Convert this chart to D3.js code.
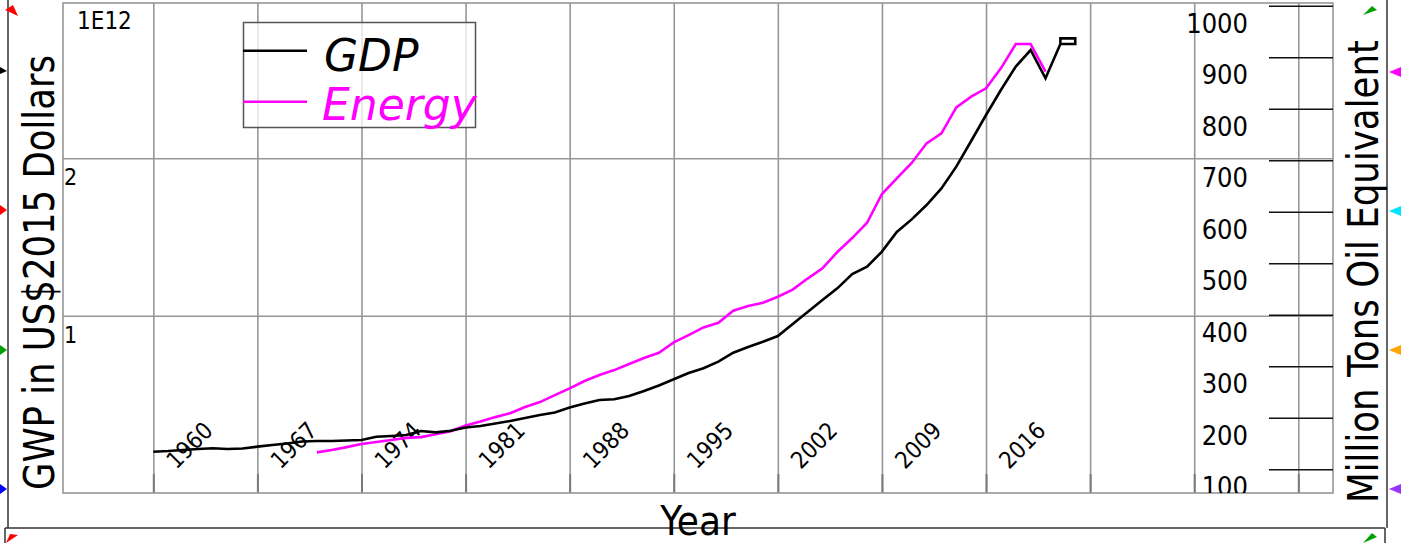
<!DOCTYPE html>
<html>
<head>
<meta charset="utf-8">
<script src="https://cdn.jsdelivr.net/npm/d3@7"></script>
<style>
  body { margin: 0; background: #fff; }
  svg { display: block; }
  text { font-family: "DejaVu Sans Condensed", "DejaVu Sans", sans-serif; font-stretch: condensed; fill: #000; }
</style>
</head>
<body>
<svg id="chart"></svg>
<script>
// GWP (left axis units)
var gdpYears = [1960, 1961, 1962, 1963, 1964, 1965, 1966, 1967, 1968, 1969,
  1970, 1971, 1972, 1973, 1974, 1975, 1976, 1977, 1978, 1979,
  1980, 1981, 1982, 1983, 1984, 1985, 1986, 1987, 1988, 1989,
  1990, 1991, 1992, 1993, 1994, 1995, 1996, 1997, 1998, 1999,
  2000, 2001, 2002, 2003, 2004, 2005, 2006, 2007, 2008, 2009,
  2010, 2011, 2012, 2013, 2014, 2015, 2016, 2017, 2018, 2019,
  2020, 2021, 2021, 2022, 2022, 2021];
var gdpValues = [0.136, 0.140, 0.147, 0.153, 0.158, 0.153, 0.156, 0.168, 0.179, 0.188,
  0.201, 0.204, 0.204, 0.207, 0.210, 0.231, 0.236, 0.242, 0.267, 0.259,
  0.269, 0.290, 0.299, 0.315, 0.331, 0.350, 0.369, 0.385, 0.417, 0.442,
  0.464, 0.469, 0.490, 0.522, 0.557, 0.596, 0.636, 0.666, 0.708, 0.765,
  0.801, 0.835, 0.871, 0.947, 1.024, 1.100, 1.174, 1.265, 1.311, 1.407,
  1.532, 1.612, 1.703, 1.809, 1.947, 2.110, 2.275, 2.434, 2.583, 2.688,
  2.508, 2.726, 2.762, 2.762, 2.726, 2.726];

// Energy, million tons oil equivalent (right axis)
var energyYears = [1971, 1972, 1973, 1974, 1975, 1976, 1977, 1978, 1979,
  1980, 1981, 1982, 1983, 1984, 1985, 1986, 1987, 1988, 1989,
  1990, 1991, 1992, 1993, 1994, 1995, 1996, 1997, 1998, 1999,
  2000, 2001, 2002, 2003, 2004, 2005, 2006, 2007, 2008, 2009,
  2010, 2011, 2012, 2013, 2014, 2015, 2016, 2017, 2018, 2019, 2020];
var energyValues = [132.8, 137.3, 143.0, 149.0, 153.0, 157.0, 161.0, 162.5, 168.0,
  174.0, 184.9, 192.6, 201.3, 209.0, 220.8, 230.5, 244.0, 257.0, 271.3,
  283.0, 292.6, 304.3, 316.0, 326.2, 346.4, 360.6, 375.5, 384.5, 407.8,
  416.9, 423.3, 435.0, 448.9, 470.3, 490.1, 521.8, 548.9, 578.6, 634.4,
  664.9, 694.6, 732.8, 752.2, 802.7, 823.3, 839.6, 878.4, 925.6, 925.6, 871.8];

var yearTicks = [1960, 1967, 1974, 1981, 1988, 1995, 2002, 2009, 2016, 2023, 2030, 2037];
var yearLabels = ["1960", "1967", "1974", "1981", "1988", "1995", "2002", "2009", "2016", "", "", ""];
var gdpTicks = [1, 2];
var gdpTickLabels = ["1", "2"];
var gdpUnitLabel = "1E12";
var energyTicks = [100, 200, 300, 400, 500, 600, 700, 800, 900, 1000];

var W = 1401, H = 543;
var plot = { left: 63, right: 1333, top: 3, bottom: 493 };

var svg = d3.select("#chart").attr("width", W).attr("height", H);

var x = d3.scaleLinear().domain([1960, 2037]).range([153.3, 1298.3]);
var yGdp = d3.scaleLinear().domain([1, 2]).range([315.7, 158.3]);
var yEnergy = d3.scaleLinear().domain([100, 1000]).range([469.3, 5.7]);

svg.append("defs").append("clipPath").attr("id", "plotClip")
  .append("rect")
  .attr("x", plot.left).attr("y", plot.top)
  .attr("width", plot.right - plot.left).attr("height", plot.bottom - plot.top);

// outer panel lines
var frameColor = "#333";
[[8, 0, 8, 528], [5, 528, 1385, 528], [5, 528, 5, 543], [1387, 0, 1387, 528], [1385, 528, 1385, 543]]
  .forEach(function (l) {
    svg.append("line").attr("x1", l[0]).attr("y1", l[1]).attr("x2", l[2]).attr("y2", l[3])
      .style("stroke", frameColor).style("stroke-width", 1.5);
  });

// vertical grid (year axis)
var gridColor = "#979797";
var xGrid = svg.append("g").attr("transform", "translate(0," + plot.bottom + ")")
  .call(d3.axisBottom(x).tickValues(yearTicks).tickSize(-(plot.bottom - plot.top)).tickSizeOuter(0).tickFormat(""));
xGrid.select(".domain").remove();
xGrid.selectAll(".tick line").style("stroke", gridColor).style("stroke-width", 1.6);
// short darker tick at the bottom of each grid line
xGrid.selectAll(".tick").append("line").attr("y2", -19).style("stroke", "#7a7a7a").style("stroke-width", 2);

// horizontal grid (GWP axis)
var yGrid = svg.append("g").attr("transform", "translate(" + plot.left + ",0)")
  .call(d3.axisRight(yGdp).tickValues(gdpTicks).tickSize(plot.right - plot.left).tickSizeOuter(0).tickFormat(""));
yGrid.select(".domain").remove();
yGrid.selectAll(".tick line").style("stroke", gridColor).style("stroke-width", 1.6);

// plot frame
svg.append("rect")
  .attr("x", plot.left).attr("y", plot.top)
  .attr("width", plot.right - plot.left).attr("height", plot.bottom - plot.top)
  .style("fill", "none").style("stroke", gridColor).style("stroke-width", 1.6);

// left tick labels
svg.selectAll(".gdpLabel").data(gdpTicks).enter().append("text")
  .attr("class", "gdpLabel")
  .attr("x", plot.left + 1).attr("y", function (d) { return yGdp(d) + 27; })
  .style("font-size", "23px")
  .text(function (d, i) { return gdpTickLabels[i]; });
svg.append("text").attr("x", 77).attr("y", plot.top + 26)
  .style("font-size", "24px").text(gdpUnitLabel);

// right axis: tick marks through the axis, labels clipped to the plot box
var rightAxis = svg.append("g").attr("transform", "translate(" + plot.right + ",0)")
  .call(d3.axisLeft(yEnergy).tickValues(energyTicks).tickSize(64).tickSizeOuter(0).tickFormat(""));
rightAxis.select(".domain").remove();
rightAxis.selectAll(".tick line").style("stroke", "#111").style("stroke-width", 1.5);

svg.append("g").attr("clip-path", "url(#plotClip)")
  .selectAll(".energyLabel").data(energyTicks).enter().append("text")
  .attr("class", "energyLabel")
  .attr("x", plot.right - 85).attr("y", function (d) { return yEnergy(d) + 27; })
  .attr("text-anchor", "end")
  .style("font-size", "27px")
  .text(d3.format("d"));

// year labels, rotated inside the plot
svg.selectAll(".yearLabel").data(yearTicks).enter().append("text")
  .attr("class", "yearLabel")
  .attr("transform", function (d) { return "translate(" + (x(d) + 23) + ",470) rotate(-45)"; })
  .style("font-size", "23.5px")
  .text(function (d, i) { return yearLabels[i]; });

// series
var gdpData = gdpYears.map(function (y, i) { return { year: y, value: gdpValues[i] }; });
var energyData = energyYears.map(function (y, i) { return { year: y, value: energyValues[i] }; });

svg.append("path").datum(energyData)
  .attr("d", d3.line().x(function (d) { return x(d.year); }).y(function (d) { return yEnergy(d.value); }))
  .style("fill", "none").style("stroke", "#ff00ff").style("stroke-width", 2.6);

svg.append("path").datum(gdpData)
  .attr("d", d3.line().x(function (d) { return x(d.year); }).y(function (d) { return yGdp(d.value); }))
  .style("fill", "none").style("stroke", "#000").style("stroke-width", 2.6);

// legend
var legend = svg.append("g");
legend.append("rect").attr("x", 243.5).attr("y", 22.5).attr("width", 232).attr("height", 105)
  .style("fill", "#fff").style("fill-opacity", 0.75).style("stroke", "#555").style("stroke-width", 1.5);
legend.append("line").attr("x1", 243).attr("x2", 307).attr("y1", 50.7).attr("y2", 50.7)
  .style("stroke", "#000").style("stroke-width", 2.6);
legend.append("line").attr("x1", 243).attr("x2", 307).attr("y1", 101.7).attr("y2", 101.7)
  .style("stroke", "#ff00ff").style("stroke-width", 2.6);
legend.append("text").attr("x", 324).attr("y", 71)
  .style("font-family", "'DejaVu Sans', sans-serif").style("font-stretch", "normal")
  .style("font-style", "oblique").style("font-size", "44px").text("GDP");
legend.append("text").attr("x", 322).attr("y", 120)
  .style("font-family", "'DejaVu Sans', sans-serif").style("font-stretch", "normal")
  .style("font-style", "oblique").style("font-size", "44px").style("fill", "#ff00ff").text("Energy");

// axis titles
svg.append("text")
  .attr("transform", "translate(54,272.5) rotate(-90)")
  .attr("text-anchor", "middle")
  .attr("textLength", 435).attr("lengthAdjust", "spacingAndGlyphs")
  .style("font-size", "43px").text("GWP in US$2015 Dollars");
svg.append("text")
  .attr("transform", "translate(1378,271.5) rotate(-90)")
  .attr("text-anchor", "middle")
  .attr("textLength", 463).attr("lengthAdjust", "spacingAndGlyphs")
  .style("font-size", "43px").text("Million Tons Oil Equivalent");
svg.append("text")
  .attr("x", 698).attr("y", 535).attr("text-anchor", "middle")
  .style("font-size", "40px").text("Year");

// little coloured handles at the window edges
var handles = [
  ["#ff0000", [[5, 10], [18, 16], [13, 5]]],
  ["#000000", [[0, 67], [7, 71], [0, 74]]],
  ["#ff0000", [[0, 205], [7, 210], [0, 215]]],
  ["#00a000", [[0, 345], [7, 350], [0, 355]]],
  ["#0000ff", [[0, 484], [7, 489], [0, 494]]],
  ["#ff0000", [[6, 543], [18, 535], [10, 534]]],
  ["#00a000", [[1363, 15], [1377, 10], [1372, 6]]],
  ["#ff00ff", [[1401, 67], [1389, 72], [1401, 77]]],
  ["#00e5ff", [[1401, 206], [1389, 211], [1401, 216]]],
  ["#ffa500", [[1401, 345], [1389, 350], [1401, 355]]],
  ["#9933ff", [[1401, 484], [1389, 489], [1401, 494]]],
  ["#00a000", [[1363, 543], [1377, 537], [1372, 533]]]
];
svg.selectAll(".handle").data(handles).enter().append("polygon")
  .attr("class", "handle")
  .attr("points", function (d) { return d[1].map(function (p) { return p.join(","); }).join(" "); })
  .style("fill", function (d) { return d[0]; });
</script>
</body>
</html>
